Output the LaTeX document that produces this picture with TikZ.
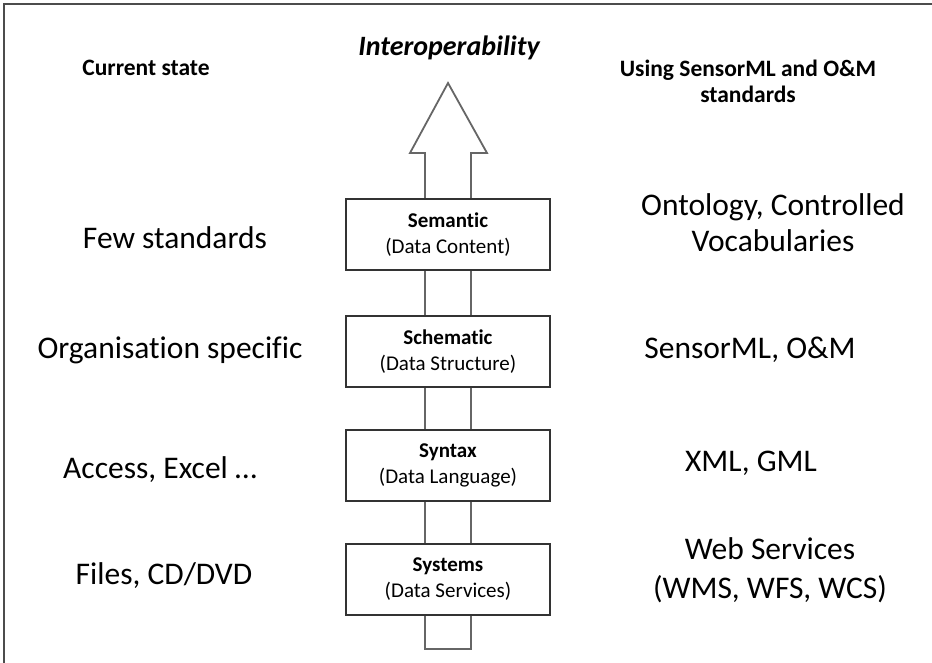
\documentclass[tikz,border=0pt]{standalone}
\usepackage{fontspec}
\setmainfont{Carlito}[Ligatures=NoCommon]
\begin{document}
\begin{tikzpicture}[x=1pt,y=-1pt,
  layerbox/.style={draw=black!80,line width=1.6pt,fill=white,minimum width=204pt,minimum height=71pt,inner sep=0pt,align=center,font=\fontsize{21}{26}\selectfont},
  bigtxt/.style={font=\fontsize{31.5}{36}\selectfont,align=center,inner sep=0pt},
  headtxt/.style={font=\fontsize{23.5}{26}\selectfont\bfseries,align=center,inner sep=0pt}]
\useasboundingbox (0,0) rectangle (932,663);
% frame (top and left edges only visible)
\draw[line width=2pt,black!70] (4,670) -- (4,4) -- (940,4);
% big arrow
\draw[line width=1.8pt,black!60,fill=white] (425,649) -- (425,153) -- (410,153) -- (448,83) -- (487,153) -- (471,153) -- (471,649) -- cycle;
% layer boxes
\node[layerbox] (sem) at (448,234.5) {\textbf{Semantic}\\(Data Content)};
\node[layerbox] (sch) at (448,351.5) {\textbf{Schematic}\\(Data Structure)};
\node[layerbox] (syn) at (448,465.5) {\textbf{Syntax}\\(Data Language)};
\node[layerbox] (sys) at (448,579.5) {\textbf{Systems}\\(Data Services)};
% headers
\node[headtxt] (cur) at (146,68) {Current state};
\node[font=\fontsize{28}{30}\selectfont\bfseries\itshape,inner sep=0pt] (inter) at (449,48) {Interoperability};
\node[headtxt] (using) at (748,81) {Using SensorML and O\&M\\standards};
% left column
\node[bigtxt] (l1) at (175,238) {Few standards};
\node[bigtxt] (l2) at (170,350) {Organisation specific};
\node[bigtxt] (l3) at (160,470) {Access, Excel \dots};
\node[bigtxt] (l4) at (164,576) {Files, CD/DVD};
% right column
\node[bigtxt] (r1) at (773,223) {Ontology, Controlled\\Vocabularies};
\node[bigtxt] (r2) at (750,350) {SensorML, O\&M};
\node[bigtxt] (r3) at (751,463) {XML, GML};
\node[bigtxt,font=\fontsize{31.5}{39}\selectfont] (r4) at (770,570) {Web Services\\(WMS, WFS, WCS)};
\end{tikzpicture}
\end{document}
